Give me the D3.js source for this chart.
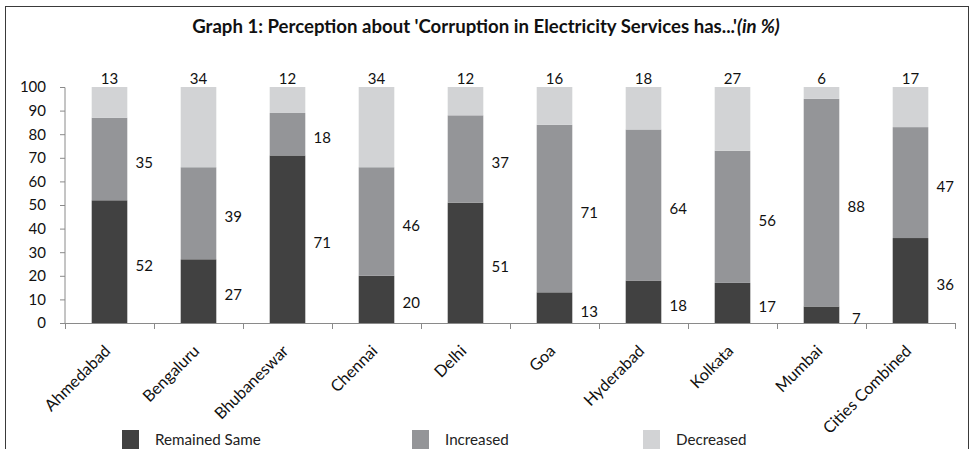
<!DOCTYPE html>
<html><head><meta charset="utf-8">
<script src="https://cdn.jsdelivr.net/npm/d3@7"></script>
<style>
html,body{margin:0;padding:0;background:#fff;}
svg{display:block;}
</style></head>
<body>
<svg id="chart" width="970" height="449"></svg>
<script>
const cities = ["Ahmedabad","Bengaluru","Bhubaneswar","Chennai","Delhi","Goa","Hyderabad","Kolkata","Mumbai","Cities Combined"];
const remainedSame = [52,27,71,20,51,13,18,17,7,36];
const increased    = [35,39,18,46,37,71,64,56,88,47];
const decreased    = [13,34,12,34,12,16,18,27,6,17];
const seriesNames  = ["Remained Same","Increased","Decreased"];
const yTicks = [0,10,20,30,40,50,60,70,80,90,100];

const colors = ["#414141","#949598","#d2d3d5"];
const svg = d3.select("#chart");

// frame
svg.append("rect").attr("x",5.5).attr("y",6.5).attr("width",963).attr("height",460)
  .attr("fill","none").attr("stroke","#3a3a3a").attr("stroke-width",1);

// title
const title = svg.append("text").attr("x",486).attr("y",33).attr("text-anchor","middle")
  .attr("font-family","Lato, 'Open Sans', sans-serif").attr("font-size",18.6).attr("fill","#111");
title.append("tspan").attr("font-weight","bold").text("Graph 1: Perception about 'Corruption in Electricity Services has...'");
title.append("tspan").attr("font-weight","bold").attr("font-style","italic").text("(in %)");

const x = d3.scaleBand().domain(cities).range([65,955]).paddingInner(0.6).paddingOuter(0.3);
const y = d3.scaleLinear().domain([0,100]).range([323,87]).clamp(true);

const data = cities.map((c,i)=>({city:c, "Remained Same":remainedSame[i], "Increased":increased[i], "Decreased":decreased[i]}));
const stack = d3.stack().keys(seriesNames)(data);

// bars
svg.append("g").selectAll("g").data(stack).join("g").attr("fill",(d,i)=>colors[i])
  .selectAll("rect").data(d=>d).join("rect")
  .attr("x",d=>x(d.data.city)).attr("width",x.bandwidth())
  .attr("y",d=>y(d[1])).attr("height",d=>y(d[0])-y(d[1]));

// axes
const axisColor = "#8a8a8a";
const yAxis = svg.append("g").attr("transform","translate(65,0)")
  .call(d3.axisLeft(y).tickValues(yTicks).tickSize(5).tickPadding(14));
yAxis.select(".domain").attr("stroke",axisColor).attr("d","M0,87.5H0V323.5");
yAxis.selectAll(".tick line").attr("stroke",axisColor);
yAxis.selectAll("text").attr("font-family","Lato, sans-serif").attr("font-size",15).attr("fill","#111");

// x axis: ticks at band boundaries
const bounds = d3.range(cities.length+1).map(i=>65 + i*(890/cities.length));
const xg = svg.append("g");
xg.append("line").attr("x1",60).attr("x2",955).attr("y1",323.5).attr("y2",323.5).attr("stroke",axisColor);
xg.selectAll("line.t").data(bounds).join("line").attr("class","t")
  .attr("x1",d=>Math.round(d)+0.5).attr("x2",d=>Math.round(d)+0.5).attr("y1",323).attr("y2",329).attr("stroke",axisColor);
xg.selectAll("text").data(cities).join("text")
  .attr("transform",d=>`translate(${x(d)+x.bandwidth()/2+2},${352}) rotate(-45)`)
  .attr("text-anchor","end").attr("font-family","Lato, sans-serif").attr("font-size",16.2).attr("fill","#111")
  .text(d=>d);

// value labels
const labels = svg.append("g").attr("font-family","Lato, sans-serif").attr("font-size",15).attr("fill","#111");
stack.forEach((s,si)=>{
  s.forEach(d=>{
    const v = d[1]-d[0];
    let lx, ly;
    if(si===2){ lx = x(d.data.city)+x.bandwidth()/2; ly = y(d[1]) - 3; }
    else { lx = x(d.data.city)+x.bandwidth()+17; ly = y((d[0]+d[1])/2) + 9; }
    labels.append("text").attr("x",lx).attr("y",ly).attr("text-anchor","middle").text(v);
  });
});

// legend
const legX = [122,412,643];
const lg = svg.append("g");
seriesNames.forEach((n,i)=>{
  lg.append("rect").attr("x",legX[i]).attr("y",430).attr("width",17).attr("height",19).attr("fill",colors[i]);
  lg.append("text").attr("x",legX[i]+33).attr("y",445).attr("font-family","Lato, sans-serif")
    .attr("font-size",15.2).attr("fill","#222").text(n);
});
</script>
</body></html>
